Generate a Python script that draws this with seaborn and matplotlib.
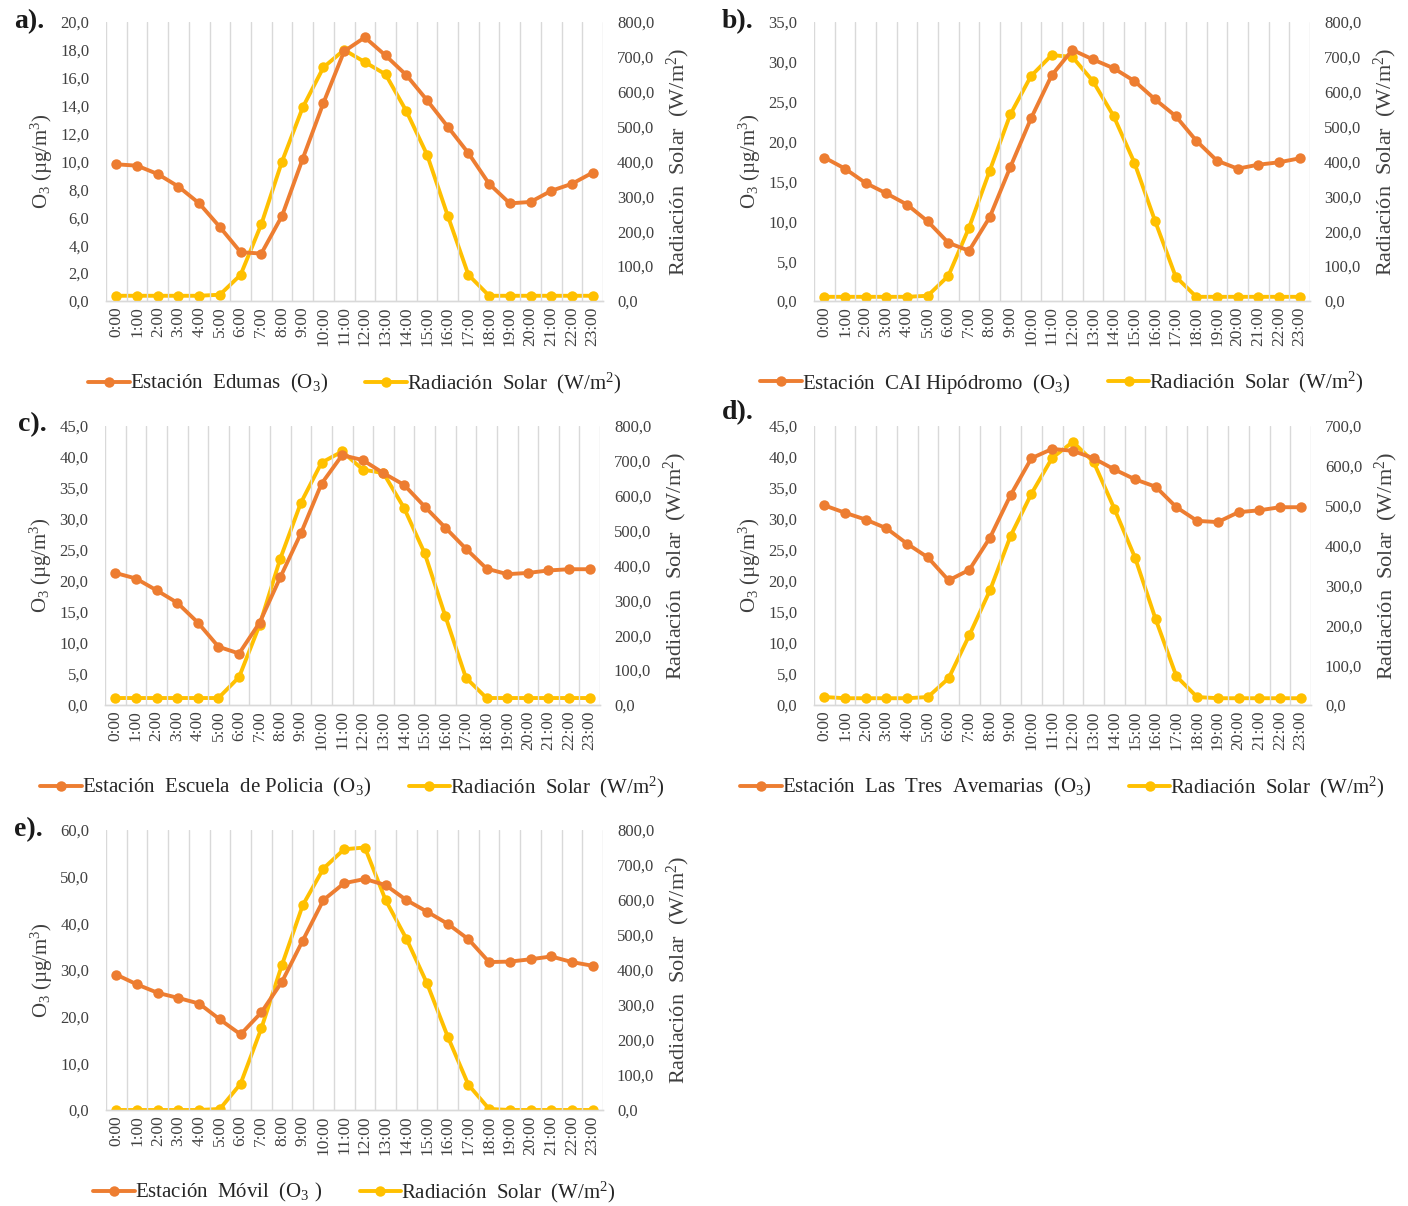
import numpy as np
import pandas as pd
import matplotlib
matplotlib.use("Agg")
import matplotlib.pyplot as plt
from matplotlib.ticker import FuncFormatter, FixedLocator
from matplotlib.lines import Line2D
import seaborn as sns

# Hourly profiles: ozone per station and solar radiation
hours = [f"{h}:00" for h in range(24)]

o3_edumas = [9.8, 9.7, 9.1, 8.2, 7.0, 5.3, 3.5, 3.4, 6.1, 10.2, 14.2, 17.9,
             18.9, 17.6, 16.2, 14.4, 12.5, 10.6, 8.4, 7.0, 7.1, 7.9, 8.4, 9.2]
rad_edumas = [15, 15, 15, 15, 15, 18, 75, 220, 400, 555, 670, 720,
              685, 650, 545, 420, 245, 75, 15, 15, 15, 15, 15, 15]

o3_cai = [18.0, 16.6, 14.8, 13.5, 12.1, 10.0, 7.3, 6.3, 10.5, 16.8, 22.9, 28.3,
          31.5, 30.3, 29.2, 27.6, 25.3, 23.2, 20.1, 17.6, 16.6, 17.1, 17.4, 17.9]
rad_cai = [12, 12, 12, 12, 12, 15, 72, 210, 373, 535, 645, 705,
           700, 630, 530, 397, 230, 70, 12, 12, 12, 12, 12, 12]

o3_policia = [21.3, 20.4, 18.5, 16.5, 13.3, 9.4, 8.3, 13.3, 20.6, 27.7, 35.7, 40.3,
              39.5, 37.4, 35.5, 32.0, 28.6, 25.2, 22.0, 21.1, 21.3, 21.7, 21.9, 21.9]
rad_policia = [20, 20, 20, 20, 20, 20, 80, 230, 420, 580, 695, 727,
               675, 665, 565, 435, 255, 78, 20, 20, 20, 20, 20, 20]

o3_avemarias = [32.2, 31.0, 29.9, 28.5, 26.0, 23.8, 20.1, 21.8, 27.0, 33.9, 39.8, 41.3,
                41.0, 39.8, 38.0, 36.4, 35.2, 31.9, 29.7, 29.5, 31.1, 31.4, 31.9, 31.9]
rad_avemarias = [20, 17, 17, 17, 17, 20, 67, 175, 288, 425, 530, 620,
                 660, 610, 493, 370, 215, 72, 20, 17, 17, 17, 17, 17]

o3_movil = [29.0, 26.9, 25.1, 24.0, 22.8, 19.4, 16.2, 20.9, 27.5, 36.3, 45.0, 48.6,
            49.5, 48.2, 45.0, 42.5, 39.9, 36.6, 31.7, 31.8, 32.3, 32.9, 31.7, 30.9]
rad_movil = [0, 0, 0, 0, 0, 3, 75, 233, 415, 585, 690, 745,
             750, 600, 490, 362, 210, 72, 3, 0, 0, 0, 0, 0]

panel_letters = ["a).", "b).", "c).", "d).", "e)."]
station_names = ["Estación  Edumas  (O$_3$)",
                 "Estación  CAI Hipódromo  (O$_3$)",
                 "Estación  Escuela  de Policia  (O$_3$)",
                 "Estación  Las  Tres  Avemarias  (O$_3$)",
                 "Estación  Móvil  (O$_3$ )"]
o3_series = [o3_edumas, o3_cai, o3_policia, o3_avemarias, o3_movil]
rad_series = [rad_edumas, rad_cai, rad_policia, rad_avemarias, rad_movil]
o3_max = [20, 35, 45, 45, 60]
o3_step = [2, 5, 5, 5, 10]
rad_max = [800, 800, 800, 700, 800]
rad_label = "Radiación  Solar  (W/m$^2$)"
o3_label = "O$_3$ (µg/m$^3$)"

sns.set_theme(style="white")
plt.rcParams["font.family"] = ["Liberation Serif", "DejaVu Serif"]
plt.rcParams["mathtext.default"] = "regular"

ORANGE = "#ED7D31"
YELLOW = "#FFC000"
TXT = "#404040"
GRID = "#D9D9D9"

W, H = 1408, 1206
fig = plt.figure(figsize=(W / 100, H / 100), dpi=100)

# axes boxes in pixel coordinates: left, right, top, bottom
boxes = [(106, 603, 22, 301), (814, 1310, 22, 301),
         (105, 600, 426, 705), (814, 1311, 426, 705),
         (106, 603, 830, 1110)]
label_pos = [(14, 22), (722, 22), (18, 425), (722, 413), (14, 830)]

comma = FuncFormatter(lambda v, p: f"{v:.1f}".replace(".", ","))
xpos = np.arange(24)

for i in range(5):
    l, r, t, b = boxes[i]
    ax = fig.add_axes([l / W, 1 - b / H, (r - l) / W, (b - t) / H])
    ax2 = ax.twinx()

    df = pd.DataFrame({"pos": xpos, "hora": hours,
                       "o3": o3_series[i], "rad": rad_series[i]})
    sns.lineplot(data=df, x="pos", y="rad", ax=ax2, color=YELLOW, marker="o",
                 markersize=7.5, linewidth=2.8, markeredgewidth=0, zorder=3)
    sns.lineplot(data=df, x="pos", y="o3", ax=ax, color=ORANGE, marker="o",
                 markersize=7.5, linewidth=2.8, markeredgewidth=0, zorder=3)
    # orange series drawn above the yellow one
    ax.set_zorder(ax2.get_zorder() + 1)
    ax.patch.set_visible(False)

    ax.set_xlim(-0.5, 23.5)
    ax.set_ylim(0, o3_max[i])
    ax.set_yticks(np.arange(0, o3_max[i] + 0.01, o3_step[i]))
    ax.yaxis.set_major_formatter(comma)
    ax2.set_ylim(0, rad_max[i])
    ax2.set_yticks(np.arange(0, rad_max[i] + 1, 100))
    ax2.yaxis.set_major_formatter(comma)

    ax.set_xticks(xpos)
    ax.set_xticklabels(df["hora"], rotation=90, fontsize=12.5, color=TXT)
    ax.xaxis.set_minor_locator(FixedLocator(np.arange(-0.5, 24, 1)))
    ax.grid(False)
    ax2.grid(False)
    ax.grid(True, which="minor", axis="x", color=GRID, linewidth=1.0)

    ax.tick_params(axis="x", which="both", length=0, pad=4)
    ax.tick_params(axis="y", length=0, pad=12, labelsize=12, labelcolor=TXT)
    ax2.tick_params(axis="y", length=0, pad=10, labelsize=12, labelcolor=TXT)

    for a in (ax, ax2):
        for s in ("top", "left", "right"):
            a.spines[s].set_visible(False)
        a.spines["bottom"].set_color(GRID)
        a.spines["bottom"].set_linewidth(1.0)

    ax.set_xlabel("")
    ax.set_ylabel(o3_label, fontsize=15, color=TXT, labelpad=4)
    ax2.set_ylabel(rad_label, fontsize=16, color=TXT, labelpad=8)

    handles = [Line2D([], [], color=ORANGE, marker="o", markersize=7.5,
                      markeredgewidth=0, linewidth=2.8),
               Line2D([], [], color=YELLOW, marker="o", markersize=7.5,
                      markeredgewidth=0, linewidth=2.8)]
    leg_y = -(82 / (b - t))
    ax.legend(handles, [station_names[i], rad_label], loc="center",
              bbox_to_anchor=(0.5, leg_y), ncol=2, frameon=False,
              fontsize=15, handlelength=2.0, handletextpad=0.0,
              columnspacing=1.8, labelcolor="#262626")

    lx, ly = label_pos[i]
    fig.text(lx / W, 1 - ly / H, panel_letters[i], fontsize=20,
             fontweight="bold", color="#1a1a1a", va="center", ha="left")

fig.savefig("out.png", dpi=100)
